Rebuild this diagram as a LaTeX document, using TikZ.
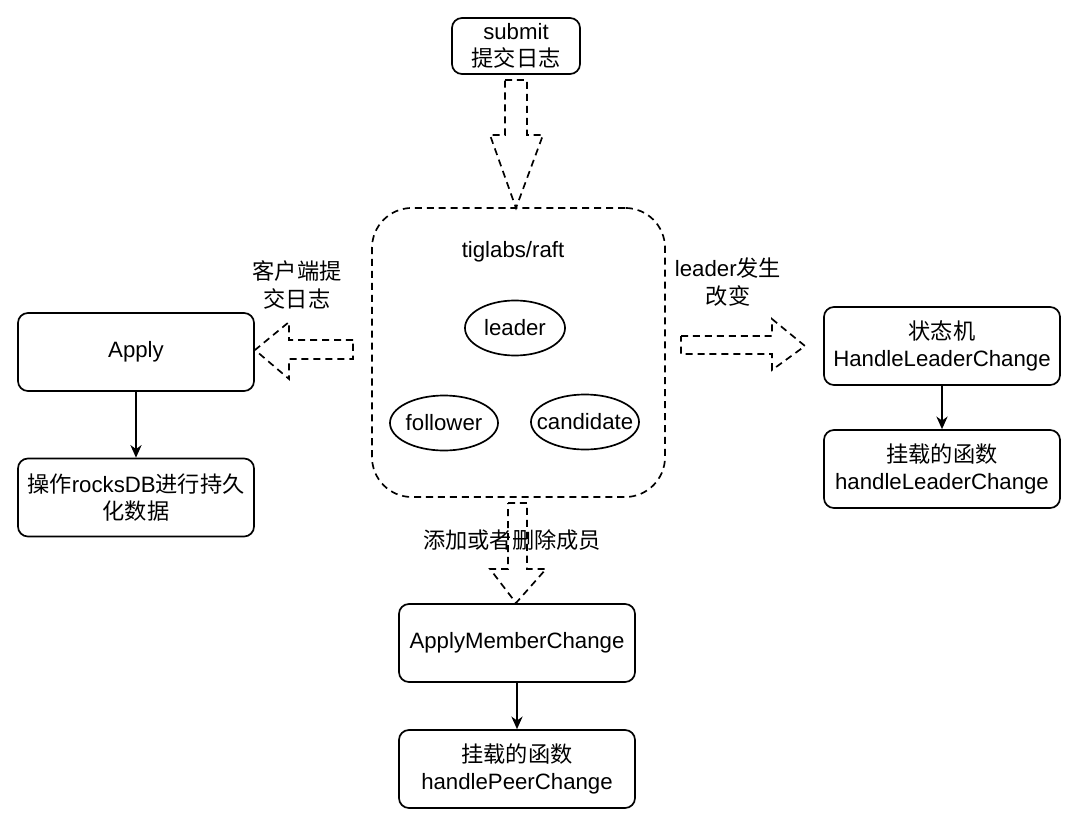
\documentclass[tikz,border=0pt]{standalone}
\usepackage{fontspec}
\setmainfont{Liberation Sans}
\newfontfamily\cjk{Noto Sans CJK SC}
\usetikzlibrary{shapes.geometric,arrows.meta}

\begin{document}
\begin{tikzpicture}[
  x=0.025cm, y=-0.025cm,
  font=\fontsize{15.8}{19.5}\selectfont,
  box/.style={draw, rounded corners=0.25cm, line width=1.2pt, minimum width=5.9cm, minimum height=1.95cm, align=center},
  role/.style={draw, ellipse, line width=1.2pt, minimum height=1.375cm, inner ysep=0pt, inner xsep=-0.25cm},
  hollow/.style={draw, line width=1.2pt, dash pattern=on 5pt off 3.5pt},
  link/.style={line width=1.2pt, -{Stealth[length=9pt,width=8pt]}},
]
  \useasboundingbox (0,0) rectangle (1080,828);

  \node[box, minimum width=3.2cm, minimum height=1.4cm] (submit) at (516,46) {submit\\{\cjk 提交日志}};

  \node[hollow, rounded corners=1cm, minimum width=7.325cm, minimum height=7.225cm] (raft) at (518.5,352.5) {};
  \node (title) at (513,252) {tiglabs/raft};
  \node[role, minimum width=2.5cm] (leader)    at (515,328) {leader};
  \node[role, minimum width=2.7cm] (follower)  at (444,423) {follower};
  \node[role, minimum width=2.7cm] (candidate) at (585,422) {candidate};

  % left side
  \node[box] (apply) at (136,352) {Apply};
  \node[box] (rocks) at (136,497.5) {{\cjk 操作}rocksDB{\cjk 进行持久}\\{\cjk 化数据}};
  \node[align=center] (clientlbl) at (297,285) {\cjk 客户端提\\\cjk 交日志};

  % right side
  \node[box] (fsm)  at (942,346) {{\cjk 状态机}\\HandleLeaderChange};
  \node[box] (hookl) at (942,469) {{\cjk 挂载的函数}\\handleLeaderChange};
  \node[align=center] (leaderlbl) at (728,282) {leader{\cjk 发生}\\\cjk 改变};

  % bottom
  \node[box] (member) at (517,643) {ApplyMemberChange};
  \node[box] (hookp)  at (517,769) {{\cjk 挂载的函数}\\handlePeerChange};

  % hollow arrows
  \draw[hollow] (505,80) -- (527,80) -- (527,135) -- (543,135) -- (516,208) -- (490,135) -- (505,135) -- cycle;
  \draw[hollow] (353,340) -- (289,340) -- (289,322) -- (255,350) -- (289,379) -- (289,359) -- (353,359) -- cycle;
  \draw[hollow] (681,336) -- (772,336) -- (772,319) -- (805,346) -- (772,370) -- (772,354) -- (681,354) -- cycle;
  \draw[hollow] (508,503) -- (527,503) -- (527,569) -- (546,569) -- (516,603) -- (490,569) -- (508,569) -- cycle;
  \node (memberlbl) at (512,540) {\cjk 添加或者删除成员};

  % solid arrows
  \draw[link] (apply) -- (rocks);
  \draw[link] (fsm) -- (hookl);
  \draw[link] (member) -- (hookp);
\end{tikzpicture}
\end{document}
